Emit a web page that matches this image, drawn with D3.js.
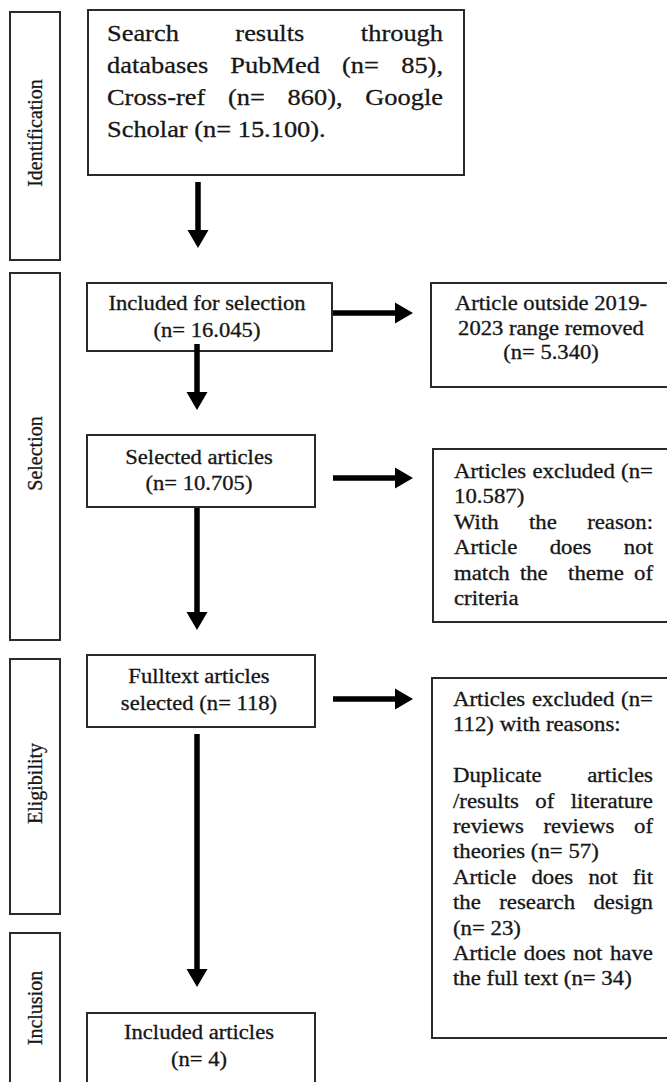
<!DOCTYPE html>
<html>
<head>
<meta charset="utf-8">
<script src="https://cdn.jsdelivr.net/npm/d3@7/dist/d3.min.js"></script>
<style>
  html, body { margin: 0; padding: 0; background: #fff; }
  svg { display: block; }
</style>
</head>
<body>
<script>
// ---------------- DATA ----------------
const stages = ["Identification", "Selection", "Eligibility", "Inclusion"];

const searchText = [
  ["Search results through", "databases PubMed (n= 85),", "Cross-ref (n= 860), Google", "Scholar (n= 15.100)."]
];
const includedText = ["Included for selection", "(n= 16.045)"];
const outsideText = ["Article outside 2019-", "2023 range removed", "(n= 5.340)"];
const selectedText = ["Selected articles", "(n= 10.705)"];
const excluded1Text = [
  ["Articles excluded (n=", "10.587)"],
  ["With the reason:", "Article does not", "match the  theme of", "criteria"]
];
const fulltextText = ["Fulltext articles", "selected (n= 118)"];
const excluded2Text = [
  ["Articles excluded (n=", "112) with reasons:"],
  [""],
  ["Duplicate articles", "/results of literature", "reviews reviews of", "theories (n= 57)"],
  ["Article does not fit", "the research design", "(n= 23)"],
  ["Article does not have", "the full text (n= 34)"]
];
const finalText = ["Included articles", "(n= 4)"];

// ---------------- LAYOUT ----------------
const W = 667, H = 1082;
const FONT = "'Liberation Serif', 'Times New Roman', serif";
const STROKE = "#2a2a2a";
const INK = "#161616";

const svg = d3.select("body").append("svg")
  .attr("width", W).attr("height", H)
  .attr("viewBox", `0 0 ${W} ${H}`);

// vertical stage bands (sidebar)
const stageY = d3.scaleOrdinal().domain(stages).range([[12, 260], [273, 640], [659, 914], [933, 1095]]);
const side = { x0: 10, x1: 60 };

function box(x0, y0, x1, y1) {
  svg.append("rect")
    .attr("x", x0).attr("y", y0)
    .attr("width", x1 - x0).attr("height", y1 - y0)
    .attr("fill", "none").attr("stroke", STROKE).attr("stroke-width", 2);
}

function natural(str, fs) {
  const t = svg.append("text").attr("font-size", fs).style("font-family", FONT).text(str);
  const w = t.node().getComputedTextLength();
  t.remove();
  return w;
}

function word(x, y, str, fs, sx) {
  const w = natural(str, fs) * sx;
  svg.append("text")
    .attr("x", x).attr("y", y)
    .attr("font-size", fs)
    .style("font-family", FONT)
    .attr("fill", INK)
    .attr("stroke", INK)
    .attr("stroke-width", 0.3)
    .attr("textLength", w)
    .attr("lengthAdjust", "spacingAndGlyphs")
    .text(str);
  return w;
}

// paragraphs: array of arrays of lines; justify all but the last line of each paragraph
function justified(paras, o) {
  let i = 0;
  paras.forEach(p => p.forEach((line, k) => {
    const y = o.y0 + i * o.lh; i++;
    if (!line.trim()) return;
    const last = k === p.length - 1;
    const tokens = line.split(" ");
    const words = tokens.filter(t => t.length);
    if (last || words.length < 2) {
      word(o.x, y, line, o.fs, o.sx);
      return;
    }
    const gaps = [];
    let cnt = 0, seen = 0;
    tokens.forEach(t => {
      if (!t.length) { cnt++; return; }
      if (seen > 0) gaps.push(cnt + 1);
      cnt = 0; seen++;
    });
    const widths = words.map(wd => natural(wd, o.fs) * o.sx);
    const totalSpaces = d3.sum(gaps);
    const unit = (o.w - d3.sum(widths)) / totalSpaces;
    let x = o.x;
    words.forEach((wd, j) => {
      word(x, y, wd, o.fs, o.sx);
      x += widths[j] + (j < gaps.length ? gaps[j] * unit : 0);
    });
  }));
}

function centered(lines, o) {
  lines.forEach((line, i) => {
    const w = natural(line, o.fs) * o.sx;
    word(o.cx - w / 2, o.y0 + i * o.lh, line, o.fs, o.sx);
  });
}

function arrow(x1, y1, x2, y2) {
  const sw = 5.5, hl = 18, hw = 21;
  const dx = x2 - x1, dy = y2 - y1, L = Math.hypot(dx, dy);
  const ux = dx / L, uy = dy / L, px = -uy, py = ux;
  const bx = x2 - ux * hl, by = y2 - uy * hl;
  const pts = [
    [x1 + px * sw / 2, y1 + py * sw / 2],
    [bx + px * sw / 2, by + py * sw / 2],
    [bx + px * hw / 2, by + py * hw / 2],
    [x2, y2],
    [bx - px * hw / 2, by - py * hw / 2],
    [bx - px * sw / 2, by - py * sw / 2],
    [x1 - px * sw / 2, y1 - py * sw / 2]
  ];
  svg.append("path").attr("d", d3.line()(pts) + "Z").attr("fill", "#000");
}

// ---------------- SIDEBAR ----------------
stages.forEach(s => {
  const [y0, y1] = stageY(s);
  box(side.x0, y0, side.x1, y1);
  const cy = Math.min((y0 + y1) / 2, 1011) - 3;
  svg.append("text")
    .attr("transform", `translate(${(side.x0 + side.x1) / 2 + 7},${cy}) rotate(-90)`)
    .attr("text-anchor", "middle")
    .attr("font-size", 20)
    .style("font-family", FONT)
    .attr("fill", INK)
    .attr("stroke", INK)
    .attr("stroke-width", 0.3)
    .text(s);
});

// ---------------- BOXES ----------------
// Identification
box(88, 10, 464, 175);
justified(searchText, { x: 107, w: 336, y0: 41, lh: 32, fs: 24, sx: 1.1 });

// Selection
box(87, 283, 332, 351);
centered(includedText, { cx: 207, y0: 310, lh: 27, fs: 20, sx: 1.13 });

box(431, 283, 690, 387);
centered(outsideText, { cx: 551, y0: 310, lh: 24.5, fs: 20, sx: 1.13 });

box(87, 435, 315, 507);
centered(selectedText, { cx: 199, y0: 464, lh: 26, fs: 20, sx: 1.13 });

box(433, 449, 690, 622);
justified(excluded1Text, { x: 454, w: 199, y0: 478, lh: 25.4, fs: 20, sx: 1.14 });

// Eligibility
box(87, 655, 315, 727);
centered(fulltextText, { cx: 199, y0: 683, lh: 26.5, fs: 20, sx: 1.13 });

box(432, 678, 690, 1038);
justified(excluded2Text, { x: 453, w: 200, y0: 706, lh: 25.4, fs: 20, sx: 1.14 });

// Inclusion
box(87, 1013, 315, 1100);
centered(finalText, { cx: 199, y0: 1039, lh: 27, fs: 20, sx: 1.13 });

// ---------------- ARROWS ----------------
arrow(198, 182, 198, 248);
arrow(333, 313, 413, 313);
arrow(197, 344, 197, 410);
arrow(333, 478, 413, 478);
arrow(197, 508, 197, 630);
arrow(333, 699, 413, 699);
arrow(197, 734, 197, 987);
</script>
</body>
</html>
